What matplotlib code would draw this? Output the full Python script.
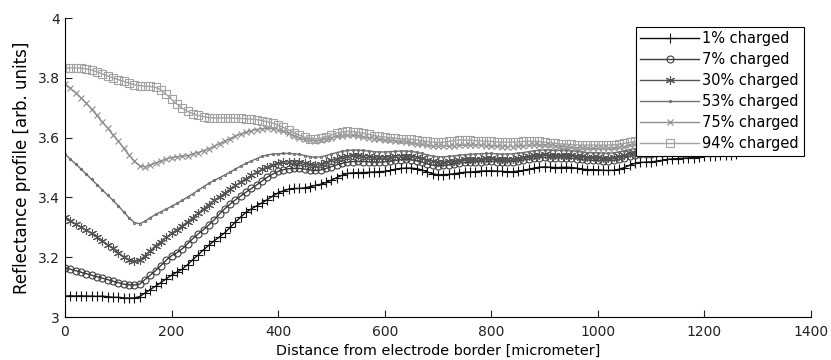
import numpy as np
import matplotlib.pyplot as plt
from matplotlib.ticker import FormatStrFormatter

# distance from electrode border, micrometer (10 um steps)
dist = np.arange(0, 1261, 10)

c01 = [3.070, 3.071, 3.070, 3.071, 3.070, 3.070, 3.069, 3.070, 3.068, 3.066,
       3.066, 3.064, 3.063, 3.064, 3.068, 3.080, 3.092, 3.103, 3.115, 3.128,
       3.140, 3.150, 3.160, 3.175, 3.192, 3.208, 3.225, 3.240, 3.255, 3.268,
       3.282, 3.300, 3.318, 3.335, 3.350, 3.362, 3.372, 3.382, 3.393, 3.405,
       3.415, 3.422, 3.428, 3.430, 3.430, 3.432, 3.436, 3.440, 3.444, 3.450,
       3.458, 3.466, 3.474, 3.480, 3.482, 3.483, 3.483, 3.484, 3.485, 3.486,
       3.487, 3.490, 3.494, 3.497, 3.498, 3.498, 3.496, 3.492, 3.485, 3.479,
       3.476, 3.476, 3.477, 3.479, 3.482, 3.484, 3.485, 3.486, 3.488, 3.489,
       3.489, 3.488, 3.487, 3.486, 3.486, 3.488, 3.490, 3.494, 3.498, 3.501,
       3.502, 3.501, 3.500, 3.500, 3.501, 3.500, 3.498, 3.495, 3.493, 3.493,
       3.492, 3.491, 3.490, 3.491, 3.494, 3.500, 3.508, 3.514, 3.517, 3.518,
       3.519, 3.521, 3.524, 3.527, 3.529, 3.530, 3.531, 3.532, 3.533, 3.535,
       3.537, 3.539, 3.540, 3.541, 3.542, 3.543, 3.544]

c07 = [3.165, 3.160, 3.155, 3.150, 3.145, 3.140, 3.135, 3.130, 3.125, 3.120,
       3.115, 3.110, 3.108, 3.107, 3.110, 3.125, 3.140, 3.155, 3.172, 3.190,
       3.205, 3.215, 3.228, 3.245, 3.262, 3.278, 3.292, 3.308, 3.325, 3.345,
       3.362, 3.378, 3.392, 3.405, 3.418, 3.430, 3.442, 3.455, 3.468, 3.478,
       3.487, 3.493, 3.496, 3.497, 3.497, 3.495, 3.492, 3.490, 3.492, 3.497,
       3.503, 3.509, 3.514, 3.518, 3.520, 3.521, 3.520, 3.519, 3.518, 3.518,
       3.519, 3.521, 3.524, 3.526, 3.527, 3.526, 3.523, 3.518, 3.512, 3.508,
       3.506, 3.507, 3.509, 3.512, 3.515, 3.517, 3.518, 3.519, 3.520, 3.521,
       3.521, 3.520, 3.519, 3.519, 3.520, 3.522, 3.525, 3.528, 3.531, 3.533,
       3.534, 3.533, 3.532, 3.532, 3.532, 3.531, 3.529, 3.527, 3.525, 3.524,
       3.524, 3.523, 3.523, 3.524, 3.527, 3.532, 3.538, 3.542, 3.544, 3.545,
       3.546, 3.548, 3.550, 3.552, 3.553, 3.554, 3.555, 3.556, 3.557, 3.558,
       3.559, 3.560, 3.561, 3.562, 3.563, 3.564, 3.565]

c30 = [3.335, 3.322, 3.310, 3.300, 3.290, 3.280, 3.268, 3.255, 3.242, 3.230,
       3.215, 3.202, 3.192, 3.186, 3.190, 3.205, 3.222, 3.238, 3.252, 3.266,
       3.280, 3.292, 3.305, 3.318, 3.332, 3.347, 3.362, 3.376, 3.390, 3.402,
       3.415, 3.428, 3.440, 3.452, 3.463, 3.474, 3.484, 3.494, 3.503, 3.510,
       3.515, 3.518, 3.520, 3.520, 3.519, 3.516, 3.512, 3.510, 3.513, 3.518,
       3.524, 3.530, 3.535, 3.539, 3.541, 3.541, 3.540, 3.538, 3.536, 3.535,
       3.535, 3.536, 3.538, 3.540, 3.540, 3.539, 3.536, 3.531, 3.526, 3.522,
       3.520, 3.520, 3.521, 3.523, 3.525, 3.527, 3.528, 3.529, 3.530, 3.531,
       3.531, 3.530, 3.529, 3.529, 3.530, 3.532, 3.535, 3.538, 3.541, 3.543,
       3.544, 3.543, 3.542, 3.542, 3.542, 3.541, 3.539, 3.537, 3.535, 3.534,
       3.534, 3.533, 3.533, 3.534, 3.537, 3.542, 3.547, 3.550, 3.552, 3.553,
       3.554, 3.556, 3.558, 3.560, 3.561, 3.562, 3.563, 3.564, 3.565, 3.566,
       3.567, 3.568, 3.569, 3.570, 3.571, 3.572, 3.573]

c53 = [3.545, 3.528, 3.512, 3.495, 3.478, 3.460, 3.443, 3.425, 3.408, 3.390,
       3.372, 3.352, 3.332, 3.316, 3.312, 3.320, 3.332, 3.343, 3.352, 3.361,
       3.370, 3.380, 3.390, 3.401, 3.412, 3.424, 3.436, 3.447, 3.457, 3.466,
       3.475, 3.485, 3.495, 3.505, 3.514, 3.522, 3.530, 3.537, 3.542, 3.545,
       3.546, 3.547, 3.547, 3.546, 3.544, 3.540, 3.536, 3.534, 3.536, 3.540,
       3.545, 3.550, 3.554, 3.557, 3.558, 3.558, 3.557, 3.555, 3.553, 3.552,
       3.552, 3.553, 3.554, 3.555, 3.555, 3.554, 3.551, 3.547, 3.542, 3.538,
       3.536, 3.536, 3.537, 3.539, 3.541, 3.543, 3.544, 3.545, 3.546, 3.547,
       3.547, 3.546, 3.545, 3.545, 3.546, 3.548, 3.550, 3.553, 3.556, 3.558,
       3.559, 3.558, 3.557, 3.557, 3.557, 3.556, 3.554, 3.552, 3.550, 3.549,
       3.549, 3.548, 3.548, 3.549, 3.552, 3.556, 3.560, 3.563, 3.565, 3.566,
       3.567, 3.568, 3.570, 3.571, 3.572, 3.573, 3.574, 3.575, 3.576, 3.577,
       3.578, 3.579, 3.580, 3.580, 3.581, 3.582, 3.582]

c75 = [3.778, 3.765, 3.750, 3.733, 3.715, 3.695, 3.674, 3.653, 3.632, 3.610,
       3.588, 3.565, 3.542, 3.522, 3.506, 3.502, 3.508, 3.515, 3.522, 3.528,
       3.533, 3.536, 3.537, 3.540, 3.545, 3.550, 3.556, 3.563, 3.571, 3.580,
       3.589, 3.597, 3.605, 3.612, 3.618, 3.623, 3.627, 3.630, 3.631, 3.630,
       3.627, 3.621, 3.614, 3.606, 3.599, 3.594, 3.591, 3.590, 3.592, 3.596,
       3.600, 3.604, 3.607, 3.608, 3.608, 3.606, 3.603, 3.600, 3.597, 3.595,
       3.593, 3.591, 3.589, 3.587, 3.585, 3.583, 3.580, 3.577, 3.574, 3.572,
       3.571, 3.571, 3.572, 3.573, 3.574, 3.575, 3.575, 3.575, 3.574, 3.573,
       3.572, 3.571, 3.570, 3.570, 3.570, 3.571, 3.572, 3.574, 3.575, 3.576,
       3.576, 3.575, 3.573, 3.571, 3.569, 3.567, 3.566, 3.565, 3.564, 3.564,
       3.564, 3.564, 3.564, 3.565, 3.567, 3.570, 3.574, 3.577, 3.579, 3.580,
       3.581, 3.582, 3.583, 3.584, 3.585, 3.586, 3.587, 3.588, 3.589, 3.590,
       3.591, 3.592, 3.592, 3.593, 3.594, 3.594, 3.595]

c94 = [3.832, 3.833, 3.833, 3.832, 3.830, 3.826, 3.820, 3.813, 3.806, 3.800,
       3.794, 3.788, 3.782, 3.777, 3.774, 3.772, 3.771, 3.768, 3.760, 3.745,
       3.728, 3.712, 3.698, 3.688, 3.680, 3.674, 3.670, 3.667, 3.666, 3.666,
       3.666, 3.666, 3.665, 3.664, 3.663, 3.662, 3.660, 3.657, 3.653, 3.648,
       3.642, 3.634, 3.625, 3.616, 3.608, 3.601, 3.597, 3.596, 3.598, 3.603,
       3.609, 3.615, 3.619, 3.621, 3.620, 3.618, 3.615, 3.611, 3.607, 3.604,
       3.602, 3.600, 3.598, 3.596, 3.595, 3.594, 3.592, 3.590, 3.587, 3.585,
       3.584, 3.585, 3.587, 3.590, 3.592, 3.592, 3.591, 3.590, 3.589, 3.588,
       3.587, 3.586, 3.585, 3.585, 3.585, 3.586, 3.587, 3.588, 3.588, 3.587,
       3.585, 3.583, 3.581, 3.579, 3.578, 3.577, 3.576, 3.575, 3.575, 3.575,
       3.575, 3.575, 3.575, 3.576, 3.578, 3.581, 3.584, 3.587, 3.589, 3.590,
       3.591, 3.592, 3.593, 3.594, 3.595, 3.596, 3.597, 3.598, 3.599, 3.600,
       3.601, 3.602, 3.602, 3.603, 3.604, 3.604, 3.605]

labels = ['1% charged', '7% charged', '30% charged', '53% charged',
          '75% charged', '94% charged']
series = [c01, c07, c30, c53, c75, c94]
colors = ['#111111', '#3c3c3c', '#555555', '#707070', '#8e8e8e', '#a2a2a2']
markers = ['+', 'o', (6, 2, 0), '.', 'x', 's']
msizes = [7.5, 5, 6.5, 3, 5, 5.5]

plt.rcParams['font.family'] = 'DejaVu Sans'
plt.rcParams['font.size'] = 10

fig = plt.figure(figsize=(8.31, 3.6), dpi=100)
ax = fig.add_axes([0.0782, 0.1194, 0.8977, 0.8306])

for y, lab, c, m, ms in zip(series, labels, colors, markers, msizes):
    ax.plot(dist, y, color=c, marker=m, markersize=ms, markerfacecolor='none',
            markeredgecolor=c, markeredgewidth=0.8, linewidth=1.0, label=lab)

ax.set_xlim(0, 1400)
ax.set_ylim(3, 4)
ax.set_xticks(np.arange(0, 1401, 200))
ax.set_yticks(np.arange(3, 4.01, 0.2))
ax.yaxis.set_major_formatter(FormatStrFormatter('%g'))
ax.spines['top'].set_visible(False)
ax.spines['right'].set_visible(False)
ax.tick_params(direction='in', length=5, width=0.8, colors='#222222')
ax.tick_params(axis='x', pad=6)
ax.set_xlabel('Distance from electrode border [micrometer]', fontsize=10.4,
              labelpad=3)
ax.set_ylabel('Reflectance profile [arb. units]', fontsize=12, labelpad=5)

leg = ax.legend(loc='upper right', bbox_to_anchor=(0.99, 0.97),
                borderaxespad=0, numpoints=1, handlelength=4.0,
                labelspacing=0.41, handletextpad=0.25, borderpad=0.3,
                fancybox=False, framealpha=1, edgecolor='black',
                prop={'size': 10.5})
leg.get_frame().set_linewidth(0.8)
leg.set_zorder(5)

fig.savefig('out.png', dpi=100)
